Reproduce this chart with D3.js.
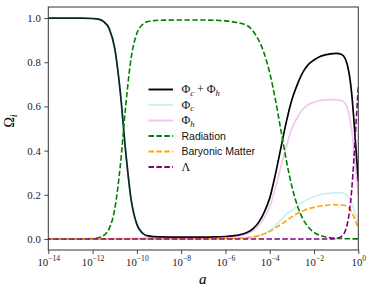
<!DOCTYPE html>
<html><head><meta charset="utf-8">
<script src="https://cdn.jsdelivr.net/npm/d3@7/dist/d3.min.js"></script>
<style>
html,body{margin:0;padding:0;background:#fff;}
svg{display:block;}
</style></head>
<body>
<svg id="chart" width="374" height="294"></svg>
<script>
// log10(a) sample positions
const logA = [-14,-13,-12.5,-12,-11.75,-11.5,-11.25,-11,-10.75,-10.5,-10.25,-10,-9.75,-9.5,-9,-8,-7,-6.5,-6,-5.5,-5,-4.75,-4.5,-4.25,-4,-3.75,-3.5,-3.25,-3,-2.75,-2.5,-2.25,-2,-1.75,-1.5,-1.25,-1,-0.75,-0.6,-0.5,-0.4,-0.3,-0.2,-0.1,0];

const phiSum = [1.0,1.0,1.0,0.998,0.995,0.984,0.952,0.863,0.666,0.39,0.172,0.066,0.027,0.014,0.009,0.008,0.008,0.009,0.011,0.016,0.03,0.047,0.075,0.12,0.185,0.29,0.41,0.53,0.63,0.70,0.755,0.79,0.81,0.825,0.833,0.838,0.840,0.835,0.818,0.790,0.740,0.66,0.54,0.40,0.262];
const phiC = [1.0,1.0,1.0,0.998,0.995,0.984,0.952,0.863,0.666,0.39,0.17,0.063,0.023,0.009,0.003,0.002,0.002,0.002,0.002,0.003,0.006,0.009,0.015,0.025,0.040,0.060,0.085,0.112,0.13,0.15,0.167,0.181,0.191,0.199,0.204,0.207,0.210,0.209,0.204,0.197,0.185,0.165,0.135,0.10,0.066];
const phiH = [0,0,0,0,0,0,0,0,0,0,0.002,0.003,0.004,0.005,0.006,0.006,0.006,0.007,0.009,0.013,0.024,0.038,0.060,0.095,0.145,0.23,0.325,0.418,0.50,0.55,0.588,0.609,0.619,0.626,0.629,0.631,0.630,0.626,0.614,0.593,0.555,0.495,0.405,0.30,0.196];
const radiation = [0,0,0.0002,0.0016,0.005,0.0155,0.047,0.135,0.33,0.607,0.825,0.931,0.97,0.984,0.99,0.991,0.991,0.99,0.987,0.980,0.965,0.94,0.90,0.84,0.752,0.634,0.495,0.356,0.238,0.15,0.09,0.053,0.030,0.017,0.0098,0.0055,0.003,0.0018,0.0012,0.001,0.0008,0.0006,0.0004,0.0003,0.0002];
const baryons = [0,0,0,0,0,0,0,0,0,0,0,0,0,0,0.0001,0.0002,0.0006,0.001,0.002,0.003,0.006,0.009,0.014,0.023,0.034,0.050,0.065,0.083,0.100,0.115,0.127,0.137,0.143,0.148,0.152,0.154,0.155,0.154,0.151,0.146,0.137,0.122,0.10,0.074,0.048];
const lambda = [0,0,0,0,0,0,0,0,0,0,0,0,0,0,0,0,0,0,0,0,0,0,0,0,0,0,0,0,0,0,0,0,0,0,0,0.0004,0.002,0.012,0.034,0.066,0.123,0.219,0.359,0.527,0.69];

const xTickExps = [-14,-12,-10,-8,-6,-4,-2,0];
const yTicks = [0.0,0.2,0.4,0.6,0.8,1.0];

const seriesDefs = [
  {label:"sum", values:phiSum, color:"#000000", dash:null, width:1.7},
  {label:"c", values:phiC, color:"rgba(0,191,191,0.22)", dash:null, width:1.7},
  {label:"h", values:phiH, color:"rgba(191,0,191,0.22)", dash:null, width:1.7},
  {label:"Radiation", values:radiation, color:"#008000", dash:"5.5,2.4", width:1.6},
  {label:"Baryonic Matter", values:baryons, color:"#ffa500", dash:"5.5,2.4", width:1.6},
  {label:"lambda", values:lambda, color:"#800080", dash:"5.5,2.4", width:1.6}
];

const svg = d3.select("#chart");
const L = 48.3, R = 358.3, T = 7, B = 250;
const serif = "'Liberation Serif','DejaVu Serif',serif";

const x = d3.scaleLog().domain([1e-14, 1]).range([L, R]);
const y = d3.scaleLinear().domain([-0.05, 1.05]).range([B, T]);

svg.append("defs").append("clipPath").attr("id","clip")
  .append("rect").attr("x",L).attr("y",T).attr("width",R-L).attr("height",B-T);

const line = d3.line().x(d => x(d[0])).y(d => y(d[1])).curve(d3.curveMonotoneX);

const gLines = svg.append("g").attr("clip-path","url(#clip)");
seriesDefs.forEach((s,i) => {
  const pts = logA.map((l,j) => [Math.pow(10,l), s.values[j]]);
  const p = gLines.append("path").datum(pts)
    .attr("fill","none").attr("stroke",s.color).attr("stroke-width",s.width)
    .attr("stroke-linejoin","round")
    .attr("d",line);
  if (s.dash) p.attr("stroke-dasharray",s.dash).attr("stroke-dashoffset", s.label==="lambda"?3:0);
});

// frame
svg.append("rect").attr("x",L).attr("y",T).attr("width",R-L).attr("height",B-T)
  .attr("fill","none").attr("stroke","#333").attr("stroke-width",1);

// x axis
const xAxis = d3.axisBottom(x).tickValues(xTickExps.map(e=>Math.pow(10,e))).tickFormat("").tickSize(4).tickSizeOuter(0);
const gx = svg.append("g").attr("transform",`translate(0,${B})`).call(xAxis);
gx.select(".domain").remove();
gx.selectAll(".tick line").attr("stroke","#333").attr("stroke-width",0.9);
gx.selectAll(".tick").each(function(d,i){
  const t = d3.select(this).append("text").attr("y",15.5).attr("fill","#222")
    .attr("text-anchor","middle").style("font-family",serif).style("font-size","10.8px");
  t.append("tspan").text("10");
  const e = xTickExps[i];
  t.append("tspan").attr("dy",-4.6).style("font-size","7.6px").text(e<0 ? "\u2212"+(-e) : String(e));
});

// y axis
const yAxis = d3.axisLeft(y).tickValues(yTicks).tickFormat(d3.format(".1f")).tickSize(4).tickSizeOuter(0);
const gy = svg.append("g").attr("transform",`translate(${L},0)`).call(yAxis);
gy.select(".domain").remove();
gy.selectAll(".tick line").attr("stroke","#333").attr("stroke-width",0.9);
gy.selectAll(".tick text").attr("x",-7.5).attr("fill","#222")
  .style("font-family",serif).style("font-size","10.8px");

// axis labels
svg.append("text").attr("x",202.7).attr("y",283.5).attr("text-anchor","middle")
  .style("font-family",serif).style("font-style","italic").style("font-size","15px").text("a");
const yl = svg.append("text").attr("transform","translate(14,121) rotate(-90)").attr("text-anchor","middle")
  .style("font-family",serif).style("font-size","14px");
yl.append("tspan").text("\u03A9");
yl.append("tspan").attr("dy",3).style("font-style","italic").style("font-size","10px").text("i");

// legend
const legY0 = 89.5, legDy = 15.5;
const lg = svg.append("g");
seriesDefs.forEach((s,i) => {
  const yy = legY0 + i*legDy;
  const ln = lg.append("line").attr("x1",148.5).attr("x2",173).attr("y1",yy).attr("y2",yy)
    .attr("stroke",s.color).attr("stroke-width",s.width+0.2);
  if (s.dash) ln.attr("stroke-dasharray","5.5,2.4");
  const t = lg.append("text").attr("x",181.5).attr("y",yy+3.8).attr("fill","#111");
  if (s.label==="sum") {
    t.style("font-family",serif).style("font-size","12px");
    t.append("tspan").text("\u03A6");
    t.append("tspan").attr("dy",2.2).style("font-style","italic").style("font-size","8.5px").text("c");
    t.append("tspan").attr("dy",-2.2).text(" + \u03A6");
    t.append("tspan").attr("dy",2.2).style("font-style","italic").style("font-size","8.5px").text("h");
  } else if (s.label==="c" || s.label==="h") {
    t.style("font-family",serif).style("font-size","12px");
    t.append("tspan").text("\u03A6");
    t.append("tspan").attr("dy",2.2).style("font-style","italic").style("font-size","8.5px").text(s.label);
  } else if (s.label==="lambda") {
    t.style("font-family",serif).style("font-size","12px").text("\u039B");
  } else {
    t.style("font-family","'Liberation Sans','DejaVu Sans',sans-serif").style("font-size","10.5px").text(s.label);
  }
});
</script>
</body></html>
